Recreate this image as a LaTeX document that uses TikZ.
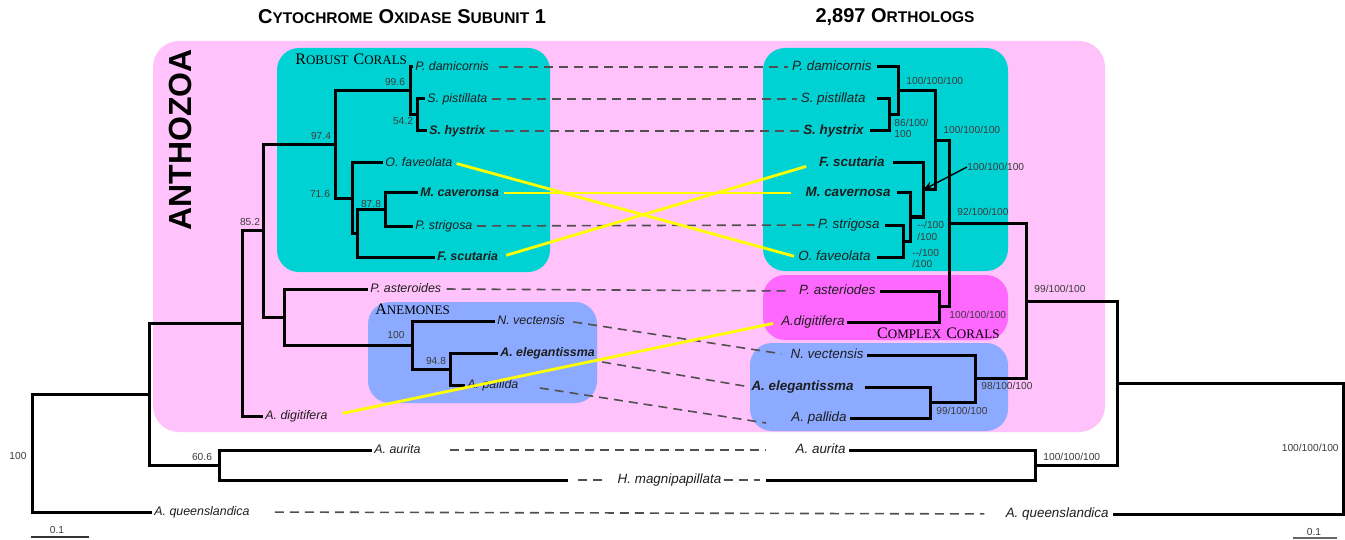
\documentclass[tikz,border=0pt]{standalone}
\usepackage{fontspec}
\setmainfont{Liberation Sans}
\newfontfamily\serifsc{Liberation Serif}
\usetikzlibrary{arrows.meta}
\definecolor{pinkbg}{RGB}{255,194,250}
\definecolor{cyanbg}{RGB}{0,210,212}
\definecolor{magbg}{RGB}{255,104,255}
\definecolor{bluebg}{RGB}{140,170,255}
\definecolor{txt}{RGB}{30,30,30}
\definecolor{suptxt}{RGB}{60,60,60}
\definecolor{dashgray}{RGB}{80,80,80}
\definecolor{ylw}{RGB}{255,255,0}
\newcommand\tcapA[1]{{\fontsize{10}{12}\selectfont #1}}
\newcommand\tcapB[1]{{\fontsize{7.75}{9}\selectfont #1}}
\newcommand\scapA[1]{{\fontsize{8}{9}\selectfont #1}}
\newcommand\scapB[1]{{\fontsize{6.5}{8}\selectfont #1}}
\tikzset{
  br/.style={line width=1.5pt, black},
  box/.style={rounded corners=11pt},
  ll/.style={font=\fontsize{6.2}{7}\selectfont\itshape, text=txt, inner xsep=1pt, inner ysep=0pt,
             text height=4.6pt, text depth=1.3pt, anchor=west},
  llb/.style={ll, font=\fontsize{6.2}{7}\selectfont\bfseries\itshape},
  rl/.style={font=\fontsize{6.7}{7.5}\selectfont\itshape, text=txt, inner xsep=0.5pt, inner ysep=0pt,
             text height=5pt, text depth=1.4pt, anchor=east},
  rlb/.style={rl, font=\fontsize{6.7}{7.5}\selectfont\bfseries\itshape},
  sup/.style={font=\fontsize{5.1}{5.8}\selectfont, text=suptxt, inner sep=0pt},
  dl/.style={draw=dashgray, line width=0.8pt, dash pattern=on 4.5pt off 3pt},
  yl/.style={draw=ylw, line width=1.4pt},
  grp/.style={font=\serifsc, text=black, inner sep=0pt},
}
\begin{document}
\begin{tikzpicture}[x=0.5pt,y=-0.5pt]
\useasboundingbox (0,0) rectangle (1345,540);
\fill[white] (0,0) rectangle (1345,540);

% ---------- background boxes ----------
\fill[pinkbg, rounded corners=13pt] (153,41) rectangle (1105,432);
\fill[cyanbg, box] (277,48) rectangle (550,272);
\fill[cyanbg, box] (763,48) rectangle (1008,271);
\fill[magbg, box] (763,275) rectangle (1008,340);
\fill[bluebg, box] (750,343) rectangle (1008,431);
\fill[bluebg, box] (368,302) rectangle (597,403);

% ---------- titles ----------
\node[font=\fontsize{10}{12}\selectfont\bfseries, inner sep=0pt] (title1) at (402,17)
  {\tcapA{C}\tcapB{YTOCHROME} \tcapA{O}\tcapB{XIDASE} \tcapA{S}\tcapB{UBUNIT} \tcapA{1}};
\node[font=\fontsize{10}{12}\selectfont\bfseries, inner sep=0pt] (title2) at (895,17)
  {\tcapA{2,897} \tcapA{O}\tcapB{RTHOLOGS}};
\node[rotate=90, font=\fontsize{16}{18}\selectfont\bfseries, inner sep=0pt] (anth) at (180,140) {ANTHOZOA};

% ---------- group names ----------
\node[grp, anchor=west] (gRobust) at (295,59) {\scapA{R}\scapB{OBUST} \scapA{C}\scapB{ORALS}};
\node[grp, anchor=west] (gAnem) at (375,309) {\scapA{A}\scapB{NEMONES}};
\node[grp, anchor=east] (gComplex) at (1000,333) {\scapA{C}\scapB{OMPLEX} \scapA{C}\scapB{ORALS}};

% ---------- left tree: labels ----------
\node[ll]  (lPd)  at (413,67)  {P. damicornis};
\node[ll]  (lSp)  at (425,99)  {S. pistillata};
\node[llb] (lSh)  at (427,131) {S. hystrix};
\node[ll]  (lOf)  at (383,163) {O. faveolata};
\node[llb] (lMc)  at (418,193) {M. caveronsa};
\node[ll]  (lPs)  at (413,226) {P. strigosa};
\node[llb] (lFs)  at (435,257) {F. scutaria};
\node[ll]  (lPa)  at (368,289) {P. asteroides};
\node[ll]  (lNv)  at (495,321) {N. vectensis};
\node[llb] (lAe)  at (498,353) {A. elegantissma};
\node[ll]  (lApl) at (465,385) {A. pallida};
\node[ll]  (lAd)  at (263,416) {A. digitifera};
\node[ll]  (lAa)  at (372,450) {A. aurita};
\node[ll]  (lAq)  at (152,512) {A. queenslandica};
\node[rl, anchor=center] (Hm) at (669.5,480) {H. magnipapillata};
\coordinate (lHmT) at (568,480);

% ---------- left tree: internal nodes ----------
\coordinate (N10) at (417,115);
\coordinate (N8)  at (410,91);
\coordinate (N12) at (385,209.5);
\coordinate (N11) at (357,233.25);
\coordinate (N9)  at (352,198.1);
\coordinate (N4)  at (335,144.6);
\coordinate (N7)  at (450,369);
\coordinate (N6)  at (412,345);
\coordinate (N5)  at (284,317);
\coordinate (N3)  at (263,230.8);
\coordinate (N2)  at (242,323.4);
\coordinate (N60) at (219,465);
\coordinate (N1)  at (149,394.2);
\coordinate (R0)  at (32,453.1);

\draw[br] (R0) |- (N1);   \draw[br] (R0) |- (lAq.west);
\draw[br] (N1) |- (N2);   \draw[br] (N1) |- (N60);
\draw[br] (N60) |- (lAa.west); \draw[br] (N60) |- (lHmT);
\draw[br] (N2) |- (N3);   \draw[br] (N2) |- (lAd.west);
\draw[br] (N3) |- (N4);   \draw[br] (N3) |- (N5);
\draw[br] (N5) |- (lPa.west); \draw[br] (N5) |- (N6);
\draw[br] (N6) |- (lNv.west); \draw[br] (N6) |- (N7);
\draw[br] (N7) |- (lAe.west); \draw[br] (N7) |- (lApl.west);
\draw[br] (N4) |- (N8);   \draw[br] (N4) |- (N9);
\draw[br] (N8) |- (lPd.west); \draw[br] (N8) |- (N10);
\draw[br] (N10) |- (lSp.west); \draw[br] (N10) |- (lSh.west);
\draw[br] (N9) |- (lOf.west); \draw[br] (N9) |- (N11);
\draw[br] (N11) |- (N12); \draw[br] (N11) |- (lFs.west);
\draw[br] (N12) |- (lMc.west); \draw[br] (N12) |- (lPs.west);

% left support values
\node[sup] (s996) at (395,82)  {99.6};
\node[sup] (s542) at (403,121) {54.2};
\node[sup] (s974) at (321,136) {97.4};
\node[sup] (s716) at (320,194) {71.6};
\node[sup] (s878) at (371,204) {87.8};
\node[sup] (s852) at (250,222) {85.2};
\node[sup] (s100a) at (396,335) {100};
\node[sup] (s948) at (436,361) {94.8};
\node[sup] (s606) at (202,457) {60.6};
\node[sup] (s100r) at (18,456) {100};

% ---------- right tree: labels ----------
\node[rl]  (rPd)  at (873,67)  {P. damicornis};
\node[rl]  (rSp)  at (867,99)  {S. pistillata};
\node[rlb] (rSh)  at (865,131) {S. hystrix};
\node[rlb] (rFs)  at (886,163) {F. scutaria};
\node[rlb] (rMc)  at (892,193) {M. cavernosa};
\node[rl]  (rPs)  at (881,225) {P. strigosa};
\node[rl]  (rOf)  at (872,257) {O. faveolata};
\node[rl]  (rPa)  at (877,291) {P. asteriodes};
\node[rl]  (rAd)  at (846,322) {A.digitifera};
\node[rl]  (rNv)  at (865,355) {N. vectensis};
\node[rlb] (rAe)  at (855,387) {A. elegantissma};
\node[rl]  (rApl) at (848,418) {A. pallida};
\node[rl]  (rAa)  at (847,450) {A. aurita};
\node[rl]  (rAq)  at (1110,514) {A. queenslandica};

% right tips
\coordinate (rPdT) at (877,67);
\coordinate (rSpT) at (877,99);
\coordinate (rShT) at (870,131);
\coordinate (rFsT) at (893,163);
\coordinate (rMcT) at (897,193);
\coordinate (rPsT) at (885,225);
\coordinate (rOfT) at (877,257);
\coordinate (rPaT) at (880,291);
\coordinate (rAdT) at (847,322);
\coordinate (rNvT) at (867,355);
\coordinate (rAeT) at (865,387);
\coordinate (rAplT) at (850,418);
\coordinate (rAaT) at (849,450);
\coordinate (rHmT) at (766,480);
\coordinate (rAqT) at (1113,514);

% right internal nodes
\coordinate (rN2)  at (889,115);
\coordinate (rN1)  at (898,91);
\coordinate (rN5)  at (903,241);
\coordinate (rN4)  at (910,217);
\coordinate (rN3)  at (923,190);
\coordinate (rN6)  at (935,140.5);
\coordinate (rN7)  at (939,306.5);
\coordinate (rN8)  at (949,223.5);
\coordinate (rN10) at (930,402.5);
\coordinate (rN9)  at (975,378.75);
\coordinate (rN11) at (1026,301.1);
\coordinate (rN12) at (1035,465);
\coordinate (rN13) at (1117,383);
\coordinate (rR0)  at (1343,448.5);

\draw[br] (rR0) |- (rN13);  \draw[br] (rR0) |- (rAqT);
\draw[br] (rN13) |- (rN11); \draw[br] (rN13) |- (rN12);
\draw[br] (rN12) |- (rAaT); \draw[br] (rN12) |- (rHmT);
\draw[br] (rN11) |- (rN8);  \draw[br] (rN11) |- (rN9);
\draw[br] (rN9) |- (rNvT);  \draw[br] (rN9) |- (rN10);
\draw[br] (rN10) |- (rAeT); \draw[br] (rN10) |- (rAplT);
\draw[br] (rN8) |- (rN6);   \draw[br] (rN8) |- (rN7);
\draw[br] (rN7) |- (rPaT);  \draw[br] (rN7) |- (rAdT);
\draw[br] (rN6) |- (rN1);   \draw[br] (rN6) |- (rN3);
\draw[br] (rN1) |- (rPdT);  \draw[br] (rN1) |- (rN2);
\draw[br] (rN2) |- (rSpT);  \draw[br] (rN2) |- (rShT);
\draw[br] (rN3) |- (rFsT);  \draw[br] (rN3) |- (rN4);
\draw[br] (rN4) |- (rMcT);  \draw[br] (rN4) |- (rN5);
\draw[br] (rN5) |- (rPsT);  \draw[br] (rN5) |- (rOfT);

% right support values
\node[sup, anchor=west] (q1) at (906,81) {100/100/100};
\node[sup, anchor=west, align=left] (q2) at (894,128.5) {86/100/\\100};
\node[sup, anchor=west] (q3) at (943,130) {100/100/100};
\node[sup, anchor=west] (q4) at (967,167) {100/100/100};
\node[sup, anchor=west, align=left] (q5) at (917,231) {{-}{-}/100\\/100};
\node[sup, anchor=west, align=left] (q6) at (912,258.5) {{-}{-}/100\\/100};
\node[sup, anchor=west] (q7) at (957,212) {92/100/100};
\node[sup, anchor=west] (q8) at (949,315) {100/100/100};
\node[sup, anchor=west] (q9) at (1034,289) {99/100/100};
\node[sup, anchor=west] (q10) at (981,386) {98/100/100};
\node[sup, anchor=west] (q11) at (936,411) {99/100/100};
\node[sup, anchor=west] (q12) at (1043,457) {100/100/100};
\node[sup, anchor=east] (q13) at (1339,448) {100/100/100};
\draw[-{Stealth[length=5pt,width=4pt]}, line width=0.7pt] (q4.west) -- (rN3);

% ---------- dashed correspondences ----------
\draw[dl, shorten <=4pt, shorten >=1.5pt] (lPd.east) -- (rPd.west);
\draw[dl, shorten <=1pt, shorten >=1pt] (lSp.east) -- (rSp.west);
\draw[dl, shorten <=1pt, shorten >=1pt] (lSh.east) -- (rSh.west);
\draw[dl, shorten <=1pt, shorten >=1pt] (lPs.east) -- (rPs.west);
\draw[dl, shorten <=1.5pt, shorten >=6pt] (lPa.east) -- (rPa.west);
\draw[dl, shorten <=3pt, shorten >=4pt] (lNv.east) -- (rNv.west);
\draw[dl, shorten >=2pt] ([shift={(5,9)}]lAe.east) -- (rAe.west);
\draw[dl] ([shift={(19,3)}]lApl.east) -- ([shift={(-24,5)}]rApl.west);
\draw[dl, shorten <=13.5pt, shorten >=14.5pt] (lAa.east) -- (rAa.west);
\draw[dl, shorten <=11.5pt, shorten >=10pt] (lAq.east) -- (rAq.west);
\draw[dl, shorten <=5pt, shorten >=4.5pt] (lHmT) -- (Hm.west);
\draw[dl, shorten <=0.5pt, shorten >=3pt] (Hm.east) -- (rHmT);

% ---------- yellow correspondences ----------
\draw[yl, shorten <=1pt, shorten >=1.5pt] (lOf.east) -- (rOf.west);
\draw[yl, shorten <=1.5pt, shorten >=6.5pt] (lMc.east) -- (rMc.west);
\draw[yl, shorten <=3pt, shorten >=6pt] (lFs.east) -- (rFs.west);
\draw[yl, shorten <=6.5pt, shorten >=3.5pt] (lAd.east) -- (rAd.west);

% ---------- scale bars ----------
\coordinate (sbL1) at (31,537); \coordinate (sbL2) at (89,537);
\draw[line width=0.8pt, black!80] (sbL1) -- (sbL2);
\node[sup] (sbLt) at (57,530) {0.1};
\coordinate (sbR1) at (1293,538); \coordinate (sbR2) at (1337,538);
\draw[line width=0.6pt, black!60] (sbR1) -- (sbR2);
\node[sup] (sbRt) at (1314,532) {0.1};
\end{tikzpicture}
\end{document}
